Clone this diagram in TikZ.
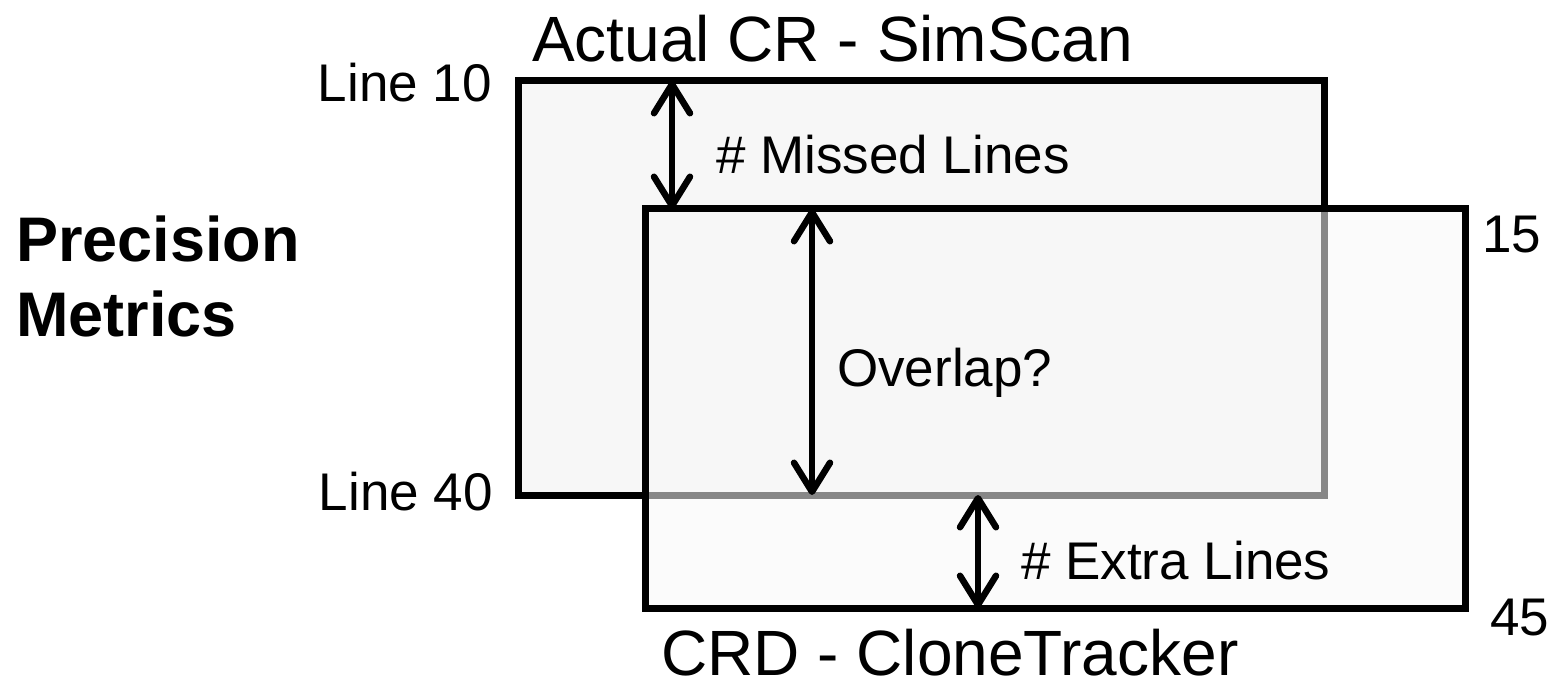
\documentclass[tikz,border=0pt]{standalone}
\usepackage{fontspec}
\setmainfont{Liberation Sans}
\usetikzlibrary{arrows.meta}
\definecolor{boxfill}{HTML}{F7F7F7}
\begin{document}
\begin{tikzpicture}[x=1pt,y=-1pt,
  frame/.style={line width=7pt, draw=black, line join=miter},
  dim/.style={line width=6.5pt, line cap=round, {Straight Barb[round,length=29pt,width=36pt]}-{Straight Barb[round,length=29pt,width=36pt]}},
  lbl/.style={inner sep=0pt, font=\fontsize{53}{60}\selectfont},
  big/.style={inner sep=0pt, font=\fontsize{64}{72}\selectfont},
  bold/.style={inner sep=0pt, font=\bfseries\fontsize{63}{75}\selectfont, align=left}]
\useasboundingbox (0,0) rectangle (1555,684);
% rectangle A (Actual CR)
\coordinate (Atl) at (518,81);
\coordinate (Abr) at (1324,495);
% rectangle B (CRD)
\coordinate (Btl) at (645,209);
\coordinate (Bbr) at (1465,608);
\fill[boxfill] (Atl) rectangle (Abr);
\draw[frame] (Atl) rectangle (Abr);
\fill[boxfill, fill opacity=0.55] (Btl) rectangle (Bbr);
\draw[frame] (Btl) rectangle (Bbr);
% dimension arrows
\coordinate (m1) at (672,81);
\coordinate (m2) at (672,209);
\coordinate (o1) at (812,209);
\coordinate (o2) at (812,495);
\coordinate (e1) at (978,495);
\coordinate (e2) at (978,608);
\draw[dim] (m1) -- (m2);
\draw[dim] (o1) -- (o2);
\draw[dim] (e1) -- (e2);
% labels
\node[big, anchor=base west] (title) at (532,62) {Actual CR - SimScan};
\node[big, anchor=base west] (crd) at (661,675) {CRD - CloneTracker};
\node[lbl, anchor=base east] (l10) at (492,102) {Line 10};
\node[lbl, anchor=base east] (l40) at (493,510) {Line 40};
\node[lbl, anchor=base west] (missed) at (716,174) {\# Missed Lines};
\node[lbl, anchor=base west] (overlap) at (837,387) {Overlap?};
\node[lbl, anchor=base west] (extra) at (1021,579) {\# Extra Lines};
\node[lbl, anchor=base west] (n15) at (1482,253) {15};
\node[lbl, anchor=base west] (n45) at (1490,635) {45};
\node[bold, anchor=base west] (prec) at (16,262) {Precision};
\node[bold, anchor=base west] (metr) at (16,337) {Metrics};
\end{tikzpicture}
\end{document}
